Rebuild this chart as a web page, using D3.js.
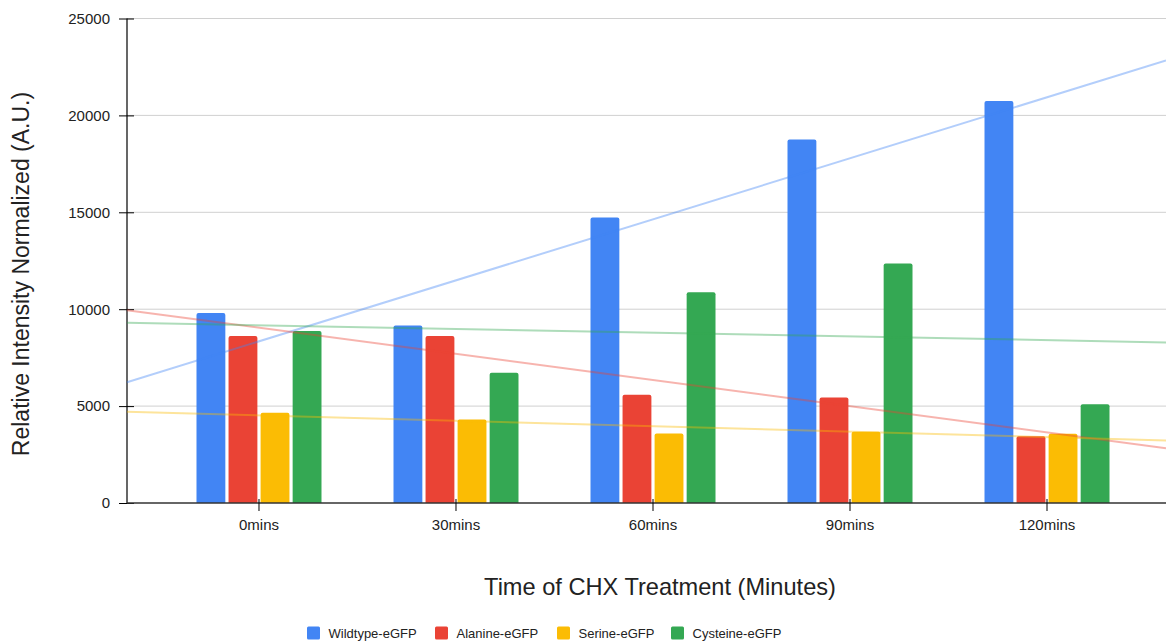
<!DOCTYPE html>
<html><head><meta charset="utf-8">
<script src="https://cdn.jsdelivr.net/npm/d3@7"></script>
<style>body{margin:0;background:#fff}svg{display:block;font-family:"Liberation Sans",Arial,sans-serif}</style>
</head><body><svg id="c" width="1166" height="641"></svg>
<script>
const categories = ["0mins","30mins","60mins","90mins","120mins"];
const seriesNames = ["Wildtype-eGFP","Alanine-eGFP","Serine-eGFP","Cysteine-eGFP"];
const wildtype = [9800, 9160, 14730, 18760, 20740];
const alanine  = [8620, 8620, 5580, 5450, 3450];
const serine   = [4660, 4310, 3590, 3680, 3570];
const cysteine = [8880, 6720, 10880, 12360, 5100];
const yTicks = [0, 5000, 10000, 15000, 20000, 25000];
const colors = ["#4285f4","#ea4335","#fbbc04","#34a853"];
const seriesValues = [wildtype, alanine, serine, cysteine];

const svg = d3.select("#c");
const pL = 127, pR = 1166, pT = 18.5, pB = 503;
const y = d3.scaleLinear().domain([0,25000]).range([pB, pT]);
const x = d3.scaleBand().domain(categories).range([127, 1179]).paddingOuter(0.17).paddingInner(0);
const xs = d3.scaleBand().domain(seriesNames).range([0,125]).paddingInner(0.1);
const groupOff = (x.bandwidth() - 125)/2;

// gridlines
svg.append("g").selectAll("line").data(yTicks.filter(d=>d>0)).join("line")
  .attr("x1", pL).attr("x2", pR).attr("y1", d=>y(d)).attr("y2", d=>y(d))
  .attr("stroke", "#d0d0d0").attr("stroke-width", 1);

// y axis
const ya = svg.append("g").attr("transform", `translate(${pL},0)`)
  .call(d3.axisLeft(y).tickValues(yTicks).tickSize(8).tickPadding(9).tickFormat(d3.format("d")));
ya.select(".domain").remove();
ya.selectAll(".tick line").attr("x2", 7).attr("x1",-8).attr("stroke","#000");
ya.selectAll("text").attr("font-size", 15).attr("fill","#222").attr("font-family","Liberation Sans, Arial");
svg.append("line").attr("x1",pL).attr("x2",pL).attr("y1",pT).attr("y2",pB).attr("stroke","#000").attr("stroke-width",1.2);

// bars
const rows = [];
categories.forEach((c,i)=>seriesNames.forEach((s,j)=>rows.push({c,s,j,v:seriesValues[j][i]})));
svg.append("g").selectAll("path").data(rows).join("path")
  .attr("fill", d=>colors[d.j])
  .attr("d", d=>{
    const x0 = x(d.c)+groupOff+xs(d.s), w = xs.bandwidth(), y0 = y(d.v), y1 = y(0), r = 2;
    return `M${x0},${y1}V${y0+r}Q${x0},${y0} ${x0+r},${y0}H${x0+w-r}Q${x0+w},${y0} ${x0+w},${y0+r}V${y1}Z`;
  });

// trendlines (least squares over category index)
const c0 = x(categories[0]) + x.bandwidth()/2;
const pxToIdx = p => (p - c0)/x.step();
seriesValues.forEach((vals,j)=>{
  const n = vals.length, xm = (n-1)/2, ym = d3.mean(vals);
  let num=0, den=0; vals.forEach((v,i)=>{num+=(i-xm)*(v-ym); den+=(i-xm)*(i-xm);});
  const b = num/den, a = ym - b*xm;
  const i0 = pxToIdx(pL), i1 = pxToIdx(pR);
  svg.append("line").attr("x1", pL).attr("x2", pR)
    .attr("y1", y(a+b*i0)).attr("y2", y(a+b*i1))
    .attr("stroke", colors[j]).attr("stroke-opacity", 0.4).attr("stroke-width", 2);
});

// x axis
svg.append("line").attr("x1",pL).attr("x2",pR).attr("y1",pB).attr("y2",pB).attr("stroke","#333").attr("stroke-width",1.5);
const xa = svg.append("g").attr("transform", `translate(0,${pB})`)
  .call(d3.axisBottom(x).tickSize(8).tickPadding(8).tickSizeOuter(0));
xa.select(".domain").remove();
xa.selectAll(".tick line").attr("y1",-4).attr("y2",8).attr("stroke","#000");
xa.selectAll("text").attr("font-size", 15).attr("fill","#222").attr("font-family","Liberation Sans, Arial");

// titles
svg.append("text").attr("x", 660).attr("y", 594.5).attr("text-anchor","middle")
  .attr("font-size", 23.6).attr("fill","#222").text("Time of CHX Treatment (Minutes)");
svg.append("text").attr("transform","translate(28.5,274) rotate(-90)").attr("text-anchor","middle")
  .attr("font-size", 23).attr("fill","#222").text("Relative Intensity Normalized (A.U.)");

// legend
const legendX = [307, 435, 557, 671];
const lg = svg.append("g").selectAll("g").data(seriesNames).join("g")
  .attr("transform",(d,i)=>`translate(${legendX[i]},626.5)`);
lg.append("rect").attr("width",13).attr("height",13).attr("rx",1.5).attr("fill",(d,i)=>colors[i]);
lg.append("text").attr("x",21.5).attr("y",11.5).attr("font-size",13).attr("fill","#222").text(d=>d);
</script></body></html>
